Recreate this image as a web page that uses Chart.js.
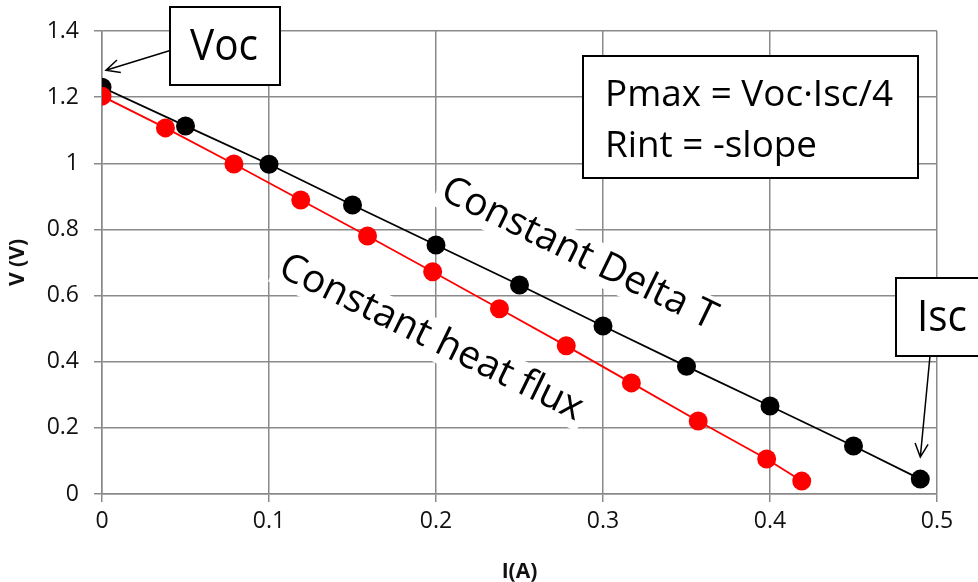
<!DOCTYPE html>
<html lang="en">
<head>
    <meta charset="UTF-8">
    <title>I-V curves</title>
    <style>
        body { margin: 0; background: #fff; }
        canvas { display: block; }
    </style>
</head>
<body>
<canvas id="ivChart" width="978" height="582"></canvas>

<script src="https://cdn.jsdelivr.net/npm/chart.js"></script>
<script>
    // Constant Delta T series (black)
    const currentDeltaT = [0, 0.05, 0.10, 0.15, 0.20, 0.25, 0.30, 0.35, 0.40, 0.45, 0.49];
    const voltageDeltaT = [1.23, 1.113, 0.997, 0.874, 0.753, 0.632, 0.508, 0.386, 0.266, 0.145, 0.045];

    // Constant heat flux series (red)
    const currentHeatFlux = [0, 0.038, 0.079, 0.119, 0.159, 0.198, 0.238, 0.278, 0.317, 0.357, 0.398, 0.419];
    const voltageHeatFlux = [1.203, 1.107, 0.998, 0.889, 0.780, 0.672, 0.560, 0.448, 0.336, 0.221, 0.106, 0.039];

    const xTicks = [0, 0.1, 0.2, 0.3, 0.4, 0.5];
    const yTicks = [0, 0.2, 0.4, 0.6, 0.8, 1, 1.2, 1.4];

    const FONT = '"Open Sans", "Liberation Sans", sans-serif';
    const GRID = '#8a8a8a';

    function toPoints(xs, ys) {
        return xs.map((x, i) => ({ x: x, y: ys[i] }));
    }

    // text squeezed horizontally to a given width (narrow face look)
    function fitText(ctx, text, x, y, size, width, align) {
        ctx.font = size + 'px ' + FONT;
        const w = ctx.measureText(text).width;
        const k = Math.min(1, width / w);
        ctx.save();
        ctx.translate(x, y);
        ctx.scale(k, 1);
        ctx.textAlign = align || 'center';
        ctx.fillText(text, 0, 0);
        ctx.restore();
    }

    function drawBox(ctx, x, y, w, h) {
        ctx.fillStyle = '#fff';
        ctx.fillRect(x, y, w, h);
        ctx.strokeStyle = '#000';
        ctx.lineWidth = 2;
        ctx.strokeRect(x, y, w, h);
    }

    function drawArrow(ctx, x1, y1, x2, y2) {
        const a = Math.atan2(y2 - y1, x2 - x1);
        const len = 15, spread = 0.45;
        ctx.strokeStyle = '#000';
        ctx.lineWidth = 1.5;
        ctx.beginPath();
        ctx.moveTo(x1, y1);
        ctx.lineTo(x2, y2);
        ctx.moveTo(x2 - len * Math.cos(a - spread), y2 - len * Math.sin(a - spread));
        ctx.lineTo(x2, y2);
        ctx.lineTo(x2 - len * Math.cos(a + spread), y2 - len * Math.sin(a + spread));
        ctx.stroke();
    }

    function rotatedLabel(ctx, text, cx, cy, angleDeg, size, width) {
        ctx.save();
        ctx.translate(cx, cy);
        ctx.rotate(angleDeg * Math.PI / 180);
        ctx.font = size + 'px ' + FONT;
        const w = ctx.measureText(text).width;
        const k = Math.min(1, width / w);
        const bw = w * k + 10, bh = size * 1.05;
        ctx.fillStyle = '#fff';
        ctx.fillRect(-bw / 2, -bh / 2, bw, bh);
        ctx.scale(k, 1);
        ctx.fillStyle = '#000';
        ctx.textAlign = 'center';
        ctx.textBaseline = 'middle';
        ctx.fillText(text, 0, 0);
        ctx.restore();
    }

    // series names along the lines, on white so the grid is hidden behind them
    const curveLabels = {
        id: 'curveLabels',
        beforeDatasetsDraw(chart) {
            const ctx = chart.ctx;
            rotatedLabel(ctx, 'Constant Delta T', 579, 254, 26, 39, 335);
            rotatedLabel(ctx, 'Constant heat flux', 431, 338, 26, 39, 368);
        }
    };

    // Voc / Isc callouts and the formula box
    const callouts = {
        id: 'callouts',
        afterDatasetsDraw(chart) {
            const ctx = chart.ctx;
            const xs = chart.scales.x, ys = chart.scales.y;
            const n = currentDeltaT.length - 1;
            const vocX = xs.getPixelForValue(currentDeltaT[0]);
            const vocY = ys.getPixelForValue(voltageDeltaT[0]);
            const iscX = xs.getPixelForValue(currentDeltaT[n]);
            const iscY = ys.getPixelForValue(voltageDeltaT[n]);

            ctx.save();
            drawArrow(ctx, 175, 49, vocX + 4, vocY - 17);
            drawBox(ctx, 170, 7, 110, 78);
            ctx.fillStyle = '#000';
            ctx.textBaseline = 'middle';
            fitText(ctx, 'Voc', 224, 47, 44, 68);

            drawArrow(ctx, 930, 356, iscX, iscY - 22);
            drawBox(ctx, 896, 278, 90, 78);
            ctx.fillStyle = '#000';
            fitText(ctx, 'Isc', 942, 318, 44, 50);

            drawBox(ctx, 583, 56, 335, 122);
            ctx.fillStyle = '#000';
            ctx.textBaseline = 'alphabetic';
            fitText(ctx, 'Pmax = Voc\u00b7Isc/4', 605, 106, 37, 288, 'left');
            fitText(ctx, 'Rint = -slope', 605, 157, 37, 212, 'left');
            ctx.restore();
        }
    };

    const ivConfig = {
        type: 'scatter',
        data: {
            datasets: [
                {
                    label: 'Constant heat flux',
                    data: toPoints(currentHeatFlux, voltageHeatFlux),
                    showLine: true,
                    borderColor: '#ff0000',
                    backgroundColor: '#ff0000',
                    borderWidth: 1.8,
                    pointRadius: 9.5,
                    pointBorderWidth: 0,
                    order: 0
                },
                {
                    label: 'Constant Delta T',
                    data: toPoints(currentDeltaT, voltageDeltaT),
                    showLine: true,
                    borderColor: '#000000',
                    backgroundColor: '#000000',
                    borderWidth: 1.8,
                    pointRadius: 9.5,
                    pointBorderWidth: 0,
                    order: 1
                }
            ]
        },
        options: {
            responsive: false,
            animation: false,
            layout: { padding: { top: 31, right: 41, left: 0, bottom: 0 } },
            plugins: {
                legend: { display: false },
                tooltip: { enabled: false }
            },
            scales: {
                x: {
                    type: 'linear',
                    min: 0,
                    max: 0.5,
                    afterBuildTicks: s => { s.ticks = xTicks.map(v => ({ value: v })); },
                    afterFit: s => { s.height = 88; },
                    grid: { color: GRID, lineWidth: 1.5, tickLength: 8 },
                    border: { color: GRID, width: 1.5 },
                    ticks: {
                        color: '#111',
                        font: { family: FONT, size: 23 },
                        padding: 6,
                        maxRotation: 0,
                        callback: v => String(v)
                    },
                    title: {
                        display: true,
                        text: 'I(A)',
                        color: '#111',
                        font: { family: FONT, size: 21, weight: 'bold' },
                        padding: { top: 0, bottom: -3 }
                    }
                },
                y: {
                    type: 'linear',
                    min: 0,
                    max: 1.4,
                    afterBuildTicks: s => { s.ticks = yTicks.map(v => ({ value: v })); },
                    afterFit: s => { s.width = 102; },
                    grid: { color: GRID, lineWidth: 1.5, tickLength: 8 },
                    border: { color: GRID, width: 1.5 },
                    ticks: {
                        color: '#111',
                        font: { family: FONT, size: 23 },
                        padding: 15,
                        callback: v => String(v)
                    },
                    title: {
                        display: true,
                        text: 'V (V)',
                        color: '#111',
                        font: { family: FONT, size: 21, weight: 'bold' },
                        padding: { top: 5, bottom: 4 }
                    }
                }
            }
        },
        plugins: [curveLabels, callouts]
    };

    window.onload = function() {
        const ctx = document.getElementById('ivChart').getContext('2d');
        window.ivChart = new Chart(ctx, ivConfig);
    };
</script>
</body>
</html>
